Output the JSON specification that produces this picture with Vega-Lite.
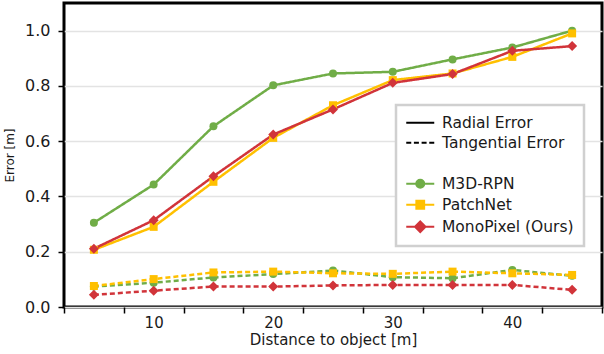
{
  "$schema": "https://vega.github.io/schema/vega-lite/v6.json",
  "autosize": {"type": "none"},
  "padding": {"left": 64, "top": 3, "right": 2, "bottom": 47},
  "width": 538,
  "height": 304,
  "config": {
    "font": "DejaVu Sans",
    "view": {"stroke": "black", "strokeWidth": 3},
    "axis": {"labelColor": "#1a1a1a", "titleColor": "#1a1a1a", "titleFontWeight": "normal", "tickColor": "black", "tickWidth": 1.5, "domain": false}
  },
  "data": {
    "values": [
      {"distance": 5, "error": 0.305, "model": "M3D-RPN", "type": "Radial"},
      {"distance": 10, "error": 0.443, "model": "M3D-RPN", "type": "Radial"},
      {"distance": 15, "error": 0.654, "model": "M3D-RPN", "type": "Radial"},
      {"distance": 20, "error": 0.802, "model": "M3D-RPN", "type": "Radial"},
      {"distance": 25, "error": 0.845, "model": "M3D-RPN", "type": "Radial"},
      {"distance": 30, "error": 0.851, "model": "M3D-RPN", "type": "Radial"},
      {"distance": 35, "error": 0.896, "model": "M3D-RPN", "type": "Radial"},
      {"distance": 40, "error": 0.939, "model": "M3D-RPN", "type": "Radial"},
      {"distance": 45, "error": 1.0, "model": "M3D-RPN", "type": "Radial"},
      {"distance": 5, "error": 0.074, "model": "M3D-RPN", "type": "Tangential"},
      {"distance": 10, "error": 0.088, "model": "M3D-RPN", "type": "Tangential"},
      {"distance": 15, "error": 0.107, "model": "M3D-RPN", "type": "Tangential"},
      {"distance": 20, "error": 0.119, "model": "M3D-RPN", "type": "Tangential"},
      {"distance": 25, "error": 0.132, "model": "M3D-RPN", "type": "Tangential"},
      {"distance": 30, "error": 0.108, "model": "M3D-RPN", "type": "Tangential"},
      {"distance": 35, "error": 0.104, "model": "M3D-RPN", "type": "Tangential"},
      {"distance": 40, "error": 0.134, "model": "M3D-RPN", "type": "Tangential"},
      {"distance": 45, "error": 0.113, "model": "M3D-RPN", "type": "Tangential"},
      {"distance": 5, "error": 0.207, "model": "PatchNet", "type": "Radial"},
      {"distance": 10, "error": 0.29, "model": "PatchNet", "type": "Radial"},
      {"distance": 15, "error": 0.453, "model": "PatchNet", "type": "Radial"},
      {"distance": 20, "error": 0.612, "model": "PatchNet", "type": "Radial"},
      {"distance": 25, "error": 0.73, "model": "PatchNet", "type": "Radial"},
      {"distance": 30, "error": 0.821, "model": "PatchNet", "type": "Radial"},
      {"distance": 35, "error": 0.845, "model": "PatchNet", "type": "Radial"},
      {"distance": 40, "error": 0.905, "model": "PatchNet", "type": "Radial"},
      {"distance": 45, "error": 0.99, "model": "PatchNet", "type": "Radial"},
      {"distance": 5, "error": 0.076, "model": "PatchNet", "type": "Tangential"},
      {"distance": 10, "error": 0.101, "model": "PatchNet", "type": "Tangential"},
      {"distance": 15, "error": 0.125, "model": "PatchNet", "type": "Tangential"},
      {"distance": 20, "error": 0.128, "model": "PatchNet", "type": "Tangential"},
      {"distance": 25, "error": 0.122, "model": "PatchNet", "type": "Tangential"},
      {"distance": 30, "error": 0.12, "model": "PatchNet", "type": "Tangential"},
      {"distance": 35, "error": 0.128, "model": "PatchNet", "type": "Tangential"},
      {"distance": 40, "error": 0.122, "model": "PatchNet", "type": "Tangential"},
      {"distance": 45, "error": 0.116, "model": "PatchNet", "type": "Tangential"},
      {"distance": 5, "error": 0.211, "model": "MonoPixel (Ours)", "type": "Radial"},
      {"distance": 10, "error": 0.314, "model": "MonoPixel (Ours)", "type": "Radial"},
      {"distance": 15, "error": 0.473, "model": "MonoPixel (Ours)", "type": "Radial"},
      {"distance": 20, "error": 0.624, "model": "MonoPixel (Ours)", "type": "Radial"},
      {"distance": 25, "error": 0.715, "model": "MonoPixel (Ours)", "type": "Radial"},
      {"distance": 30, "error": 0.811, "model": "MonoPixel (Ours)", "type": "Radial"},
      {"distance": 35, "error": 0.843, "model": "MonoPixel (Ours)", "type": "Radial"},
      {"distance": 40, "error": 0.927, "model": "MonoPixel (Ours)", "type": "Radial"},
      {"distance": 45, "error": 0.944, "model": "MonoPixel (Ours)", "type": "Radial"},
      {"distance": 5, "error": 0.044, "model": "MonoPixel (Ours)", "type": "Tangential"},
      {"distance": 10, "error": 0.059, "model": "MonoPixel (Ours)", "type": "Tangential"},
      {"distance": 15, "error": 0.074, "model": "MonoPixel (Ours)", "type": "Tangential"},
      {"distance": 20, "error": 0.074, "model": "MonoPixel (Ours)", "type": "Tangential"},
      {"distance": 25, "error": 0.078, "model": "MonoPixel (Ours)", "type": "Tangential"},
      {"distance": 30, "error": 0.08, "model": "MonoPixel (Ours)", "type": "Tangential"},
      {"distance": 35, "error": 0.08, "model": "MonoPixel (Ours)", "type": "Tangential"},
      {"distance": 40, "error": 0.08, "model": "MonoPixel (Ours)", "type": "Tangential"},
      {"distance": 45, "error": 0.062, "model": "MonoPixel (Ours)", "type": "Tangential"}
    ]
  },
  "encoding": {
    "x": {
      "field": "distance", "type": "quantitative",
      "scale": {"domain": [2.5, 47.5], "nice": false, "zero": false},
      "axis": {
        "title": "Distance to object [m]",
        "values": [2.5, 7.5, 10, 12.5, 17.5, 20, 22.5, 27.5, 30, 32.5, 37.5, 40, 42.5, 47.5],
        "labelExpr": "datum.value % 10 === 0 ? format(datum.value, 'd') : ''",
        "tickOpacity": {"condition": {"test": "datum.value % 10 === 0", "value": 0}, "value": 1},
        "grid": false,
        "tickSize": 6,
        "labelPadding": 2,
        "labelFontSize": 15,
        "labelOverlap": false,
        "labelFlush": false,
        "titleFontSize": 15,
        "titlePadding": 2
      }
    },
    "y": {
      "field": "error", "type": "quantitative",
      "scale": {"domain": [0, 1.1], "nice": false},
      "axis": {
        "title": "Error [m]",
        "values": [0, 0.2, 0.4, 0.6, 0.8, 1.0],
        "format": ".1f",
        "grid": true,
        "gridColor": "#e3e3e3",
        "gridWidth": 1.5,
        "tickSize": 6,
        "labelPadding": 8,
        "labelFontSize": 16,
        "titleFontSize": 12,
        "titlePadding": 8
      }
    },
    "color": {
      "field": "model", "type": "nominal",
      "scale": {
        "domain": ["Radial Error", "Tangential Error", " ", "M3D-RPN", "PatchNet", "MonoPixel (Ours)"],
        "range": ["#000000", "#000000", "#ffffff", "#70AD47", "#FFC000", "#D1343A"]
      },
      "legend": {
        "title": null,
        "orient": "none",
        "legendX": 332,
        "legendY": 102,
        "padding": 10,
        "strokeColor": "#d0d0d0",
        "fillColor": "#ffffff",
        "labelFont": "DejaVu Sans",
        "labelFontSize": 15.5,
        "labelColor": "#1a1a1a",
        "symbolSize": 100,
        "symbolStrokeWidth": 2,
        "symbolOffset": 6.5,
        "labelOffset": 14,
        "rowPadding": 3,
        "encode": {
          "legend": {
            "update": {
              "strokeWidth": {"value": 2.5}
            }
          },
          "symbols": {
            "update": {
              "shape": {"signal": "datum.value === 'Radial Error' ? 'M-2.8,0H2.8' : datum.value === 'Tangential Error' ? 'M-2.8,0H-1.8M-1.27,0H-0.27M0.27,0H1.27M1.8,0H2.8' : datum.value === 'M3D-RPN' ? 'M-2.8,0H2.8M0.8,0A0.8,0.8,0,1,1,-0.8,0A0.8,0.8,0,1,1,0.8,0Z' : datum.value === 'PatchNet' ? 'M-2.8,0H2.8M-0.78,-0.78H0.78V0.78H-0.78Z' : datum.value === 'MonoPixel (Ours)' ? 'M-2.8,0H2.8M0,-1.05L1.05,0L0,1.05L-1.05,0Z' : 'M0,0'"},
              "fill": {"scale": "color", "field": "value"},
              "stroke": {"scale": "color", "field": "value"},
              "strokeWidth": {"value": 2},
              "opacity": {"value": 1}
            }
          }
        }
      }
    }
  },
  "layer": [
    {
      "mark": {"type": "line", "strokeWidth": 2.5},
      "encoding": {
        "strokeDash": {
          "field": "type", "type": "nominal",
          "scale": {"domain": ["Radial", "Tangential"], "range": [[1, 0], [5, 3]]},
          "legend": null
        }
      }
    },
    {
      "mark": {"type": "point", "filled": true, "opacity": 1, "size": 64},
      "encoding": {
        "shape": {
          "field": "model", "type": "nominal",
          "scale": {
            "domain": ["M3D-RPN", "PatchNet", "MonoPixel (Ours)"],
            "range": ["circle", "square", "M0,-1.25L1.25,0L0,1.25L-1.25,0Z"]
          },
          "legend": null
        }
      }
    }
  ]
}
